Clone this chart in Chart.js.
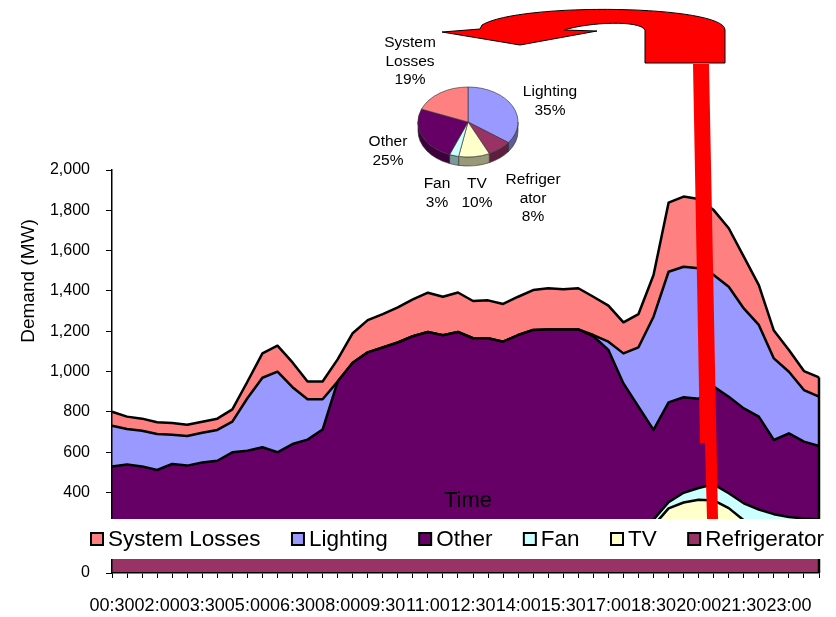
<!DOCTYPE html>
<html>
<head>
<meta charset="utf-8">
<script src="https://cdn.jsdelivr.net/npm/chart.js@4.4.0/dist/chart.umd.min.js"></script>
<style>
  body { margin: 0; background: #fff; }
  #wrap { position: relative; width: 836px; height: 617px; }
  #wrap canvas { position: absolute; top: 0; display: block; }
  #chart1 { left: 0; }
  #pie { left: 340px; }
</style>
</head>
<body>
<div id="wrap">
  <canvas id="chart1" width="836" height="617"></canvas>
  <canvas id="pie" width="260" height="230"></canvas>
</div>
<script>
  Chart.defaults.font.family = "'Liberation Sans', Arial, sans-serif";
  Chart.defaults.color = '#000';

  // half-hourly demand (MW), stacked bottom to top
  const times = ['00:30', '01:00', '01:30', '02:00', '02:30', '03:00', '03:30', '04:00',
    '04:30', '05:00', '05:30', '06:00', '06:30', '07:00', '07:30', '08:00',
    '08:30', '09:00', '09:30', '10:00', '10:30', '11:00', '11:30', '12:00',
    '12:30', '13:00', '13:30', '14:00', '14:30', '15:00', '15:30', '16:00',
    '16:30', '17:00', '17:30', '18:00', '18:30', '19:00', '19:30', '20:00',
    '20:30', '21:00', '21:30', '22:00', '22:30', '23:00', '23:30', '24:00'];

  const refrigerator = [85, 84, 83, 82, 82, 82, 84, 86, 88, 92, 96,
    98, 98, 96, 95, 96, 98, 100, 102, 104, 105, 106, 106, 107,
    108, 108, 107, 108, 110, 110, 110, 110, 108, 106, 104, 106,
    112, 125, 128, 130, 130, 126, 122, 118, 112, 106, 100, 95];
  const tv = [45, 35, 25, 20, 18, 18, 18, 20, 26, 32, 36, 38,
    35, 30, 28, 30, 35, 40, 45, 48, 50, 52, 52, 55,
    58, 58, 56, 55, 55, 55, 56, 58, 60, 65, 70, 80,
    123, 196, 222, 234, 230, 196, 140, 112, 93, 84, 75, 65];
  const fan = [100, 98, 96, 95, 94, 92, 88, 80, 65, 50, 40, 35,
    28, 30, 33, 36, 40, 42, 45, 48, 50, 52, 52, 54,
    55, 55, 55, 55, 55, 55, 54, 52, 50, 48, 45, 44,
    30, 31, 48, 58, 80, 74, 84, 85, 87, 88, 95, 105];
  const other = [298, 321, 325, 314, 347, 341, 358, 371, 420, 433, 452, 428,
    479, 506, 556, 788, 870, 913, 927, 944, 970, 986, 970, 980,
    944, 944, 930, 963, 986, 989, 989, 989, 957, 888, 722, 595,
    445, 495, 474, 443, 485, 479, 471, 461, 368, 415, 382, 365];
  const lighting = [203, 177, 177, 179, 145, 147, 148, 153, 152, 260, 345, 400,
    282, 200, 150, 0, 0, 0, 0, 0, 0, 0, 0, 0,
    0, 0, 0, 0, 0, 0, 0, 0, 6, 41, 149, 295,
    562, 648, 648, 647, 554, 546, 496, 455, 405, 306, 256, 245];
  const systemLosses = [69, 61, 60, 58, 58, 56, 55, 56, 61, 82, 121, 129,
    123, 88, 88, 110, 147, 160, 166, 174, 183, 195, 191, 196,
    185, 188, 187, 190, 198, 204, 199, 204, 190, 179, 154, 165,
    207, 343, 348, 344, 322, 290, 257, 198, 138, 108, 94, 96];

  const seriesNames = ['Refrigerator', 'TV', 'Fan', 'Other', 'Lighting', 'System Losses'];
  const seriesData = [refrigerator, tv, fan, other, lighting, systemLosses];
  const seriesColors = ['#993366', '#FFFFCC', '#CCFFFF', '#660066', '#9999FF', '#FF8080'];

  // energy share pie (%)
  const pieNames = ['Lighting', 'Refrigerator', 'TV', 'Fan', 'Other', 'System Losses'];
  const pieShares = [35, 8, 10, 3, 25, 19];
  const pieColors = ['#9999FF', '#993366', '#FFFFCC', '#CCFFFF', '#660066', '#FF8080'];
  const pieSides = ['#5c5c99', '#5c1f3d', '#99997a', '#7a9999', '#3d003d', '#994d4d'];
  const pieText = [['Lighting', '35%'], ['Refriger', 'ator', '8%'], ['TV', '10%'],
    ['Fan', '3%'], ['Other', '25%'], ['System', 'Losses', '19%']];
  const pieTextPos = [[210, 92], [193, 180], [137, 184], [97, 184], [48, 142], [70, 43]];

  const FONT = "'Liberation Sans', Arial, sans-serif";

  const overlay = {
    id: 'overlay',
    afterDatasetsDraw(chart) {
      const ctx = chart.ctx;
      const top = chart.getDatasetMeta(5).data;
      const last = top[top.length - 1];
      const y0 = chart.scales.y.getPixelForValue(0);
      ctx.save();
      // right edge of the stacked areas
      ctx.strokeStyle = '#000';
      ctx.lineWidth = 2.5;
      ctx.beginPath();
      ctx.moveTo(last.x, last.y);
      ctx.lineTo(last.x, y0);
      ctx.stroke();

      // axis title drawn inside the plot
      ctx.fillStyle = '#000';
      ctx.font = '22px ' + FONT;
      ctx.textAlign = 'center';
      ctx.textBaseline = 'middle';
      ctx.fillText('Time', 468, 501);

      // red pointer bar
      ctx.fillStyle = '#FF0000';
      ctx.beginPath();
      ctx.moveTo(693, 64);
      ctx.lineTo(709, 64);
      ctx.lineTo(718, 519);
      ctx.lineTo(707, 519);
      ctx.lineTo(705, 443);
      ctx.lineTo(700, 443);
      ctx.closePath();
      ctx.fill();
      ctx.restore();
    },
    afterDraw(chart) {
      const ctx = chart.ctx;
      ctx.save();
      // y axis title
      ctx.fillStyle = '#000';
      ctx.font = '19px ' + FONT;
      ctx.textAlign = 'center';
      ctx.textBaseline = 'middle';
      ctx.translate(29, 281);
      ctx.rotate(-Math.PI / 2);
      ctx.fillText('Demand (MW)', 0, 0);
      ctx.restore();

      ctx.save();
      // curved red arrow
      ctx.fillStyle = '#FF0000';
      ctx.strokeStyle = '#000';
      ctx.lineWidth = 1;
      ctx.beginPath();
      ctx.moveTo(442, 32);
      ctx.lineTo(520, 45);
      ctx.lineTo(597, 31);
      ctx.lineTo(564, 30);
      ctx.bezierCurveTo(590, 22, 640, 20, 645, 30);
      ctx.lineTo(645, 63);
      ctx.lineTo(725, 63);
      ctx.lineTo(725, 30);
      ctx.bezierCurveTo(725, 5, 520, 2, 482, 25);
      ctx.lineTo(480, 29);
      ctx.closePath();
      ctx.fill();
      ctx.stroke();

      // legend band over the plot
      ctx.fillStyle = '#fff';
      ctx.fillRect(40, 519, 783, 40);
      ctx.font = '22.5px ' + FONT;
      ctx.textBaseline = 'middle';
      ctx.textAlign = 'left';
      let x = 91;
      for (let k = seriesNames.length - 1; k >= 0; k--) {
        ctx.fillStyle = seriesColors[k];
        ctx.fillRect(x, 533, 12, 12);
        ctx.strokeStyle = '#000';
        ctx.lineWidth = 2;
        ctx.strokeRect(x, 533, 12, 12);
        ctx.fillStyle = '#000';
        ctx.fillText(seriesNames[k], x + 17, 540);
        x += 17 + ctx.measureText(seriesNames[k]).width + 31.4;
      }
      ctx.restore();
    }
  };

  const ctx1 = document.getElementById('chart1').getContext('2d');
  const chart1 = new Chart(ctx1, {
    type: 'line',
    data: {
      labels: times,
      datasets: seriesNames.map((name, k) => ({
        label: name,
        data: seriesData[k],
        backgroundColor: seriesColors[k],
        borderColor: '#000',
        borderWidth: 2.5,
        borderJoinStyle: 'round',
        pointRadius: 0,
        tension: 0,
        fill: k === 0 ? 'origin' : '-1'
      }))
    },
    options: {
      responsive: false,
      animation: false,
      events: [],
      layout: { padding: { top: 170, right: 15, left: 0, bottom: 0 } },
      plugins: { legend: { display: false }, tooltip: { enabled: false } },
      scales: {
        x: {
          offset: false,
          grid: { drawOnChartArea: false, tickLength: 5, color: '#000' },
          border: { color: '#000', width: 1.5, z: 1 },
          ticks: {
            autoSkip: false, maxRotation: 0, minRotation: 0, padding: 17,
            font: { size: 18 }, color: '#000',
            callback: (v, i) => (i % 3 === 0 ? times[i] : '')
          },
          afterFit: s => { s.height = 44; }
        },
        y: {
          stacked: true,
          min: 0,
          max: 2000,
          grid: { drawOnChartArea: false, tickLength: 6, color: '#000' },
          border: { color: '#000', width: 1.5, z: 1 },
          ticks: {
            stepSize: 200, padding: 16, font: { size: 16 }, color: '#000',
            callback: v => v.toLocaleString('en-US')
          },
          afterFit: s => { s.width = 112; }
        }
      }
    },
    plugins: [overlay]
  });

  // 3D look for the pie: squash vertically and add a dark side
  const SQUASH = 0.7;
  const DEPTH = 9 / SQUASH;
  const pie3d = {
    id: 'pie3d',
    beforeDatasetsDraw(chart) {
      const ctx = chart.ctx;
      const arcs = chart.getDatasetMeta(0).data;
      const cx = arcs[0].x, cy = arcs[0].y, r = arcs[0].outerRadius;
      ctx.save();
      ctx.translate(cx, cy);
      ctx.scale(1, SQUASH);
      ctx.translate(-cx, -cy);
      arcs.forEach((a, i) => {
        const s = Math.max(a.startAngle, 0);
        const e = Math.min(a.endAngle, Math.PI);
        if (e <= s) return;
        ctx.beginPath();
        ctx.arc(cx, cy, r, s, e);
        ctx.arc(cx, cy + DEPTH, r, e, s, true);
        ctx.closePath();
        ctx.fillStyle = pieSides[i];
        ctx.fill();
        ctx.strokeStyle = '#333';
        ctx.lineWidth = 0.75;
        ctx.stroke();
      });
    },
    afterDatasetsDraw(chart) {
      chart.ctx.restore();
    },
    afterDraw(chart) {
      const ctx = chart.ctx;
      ctx.save();
      ctx.fillStyle = '#000';
      ctx.font = '15.5px ' + FONT;
      ctx.textAlign = 'center';
      ctx.textBaseline = 'middle';
      pieText.forEach((lines, i) => {
        lines.forEach((t, j) => ctx.fillText(t, pieTextPos[i][0], pieTextPos[i][1] + j * 18.5));
      });
      ctx.restore();
    }
  };

  const ctx2 = document.getElementById('pie').getContext('2d');
  const chart2 = new Chart(ctx2, {
    type: 'pie',
    data: {
      labels: pieNames,
      datasets: [{
        data: pieShares,
        backgroundColor: pieColors,
        borderColor: '#333',
        borderWidth: 0.75,
        clip: false
      }]
    },
    options: {
      responsive: false,
      animation: false,
      events: [],
      radius: 50,
      layout: { padding: { left: 78, right: 82, top: 72, bottom: 58 } },
      plugins: { legend: { display: false }, tooltip: { enabled: false } }
    },
    plugins: [pie3d]
  });
</script>
</body>
</html>
